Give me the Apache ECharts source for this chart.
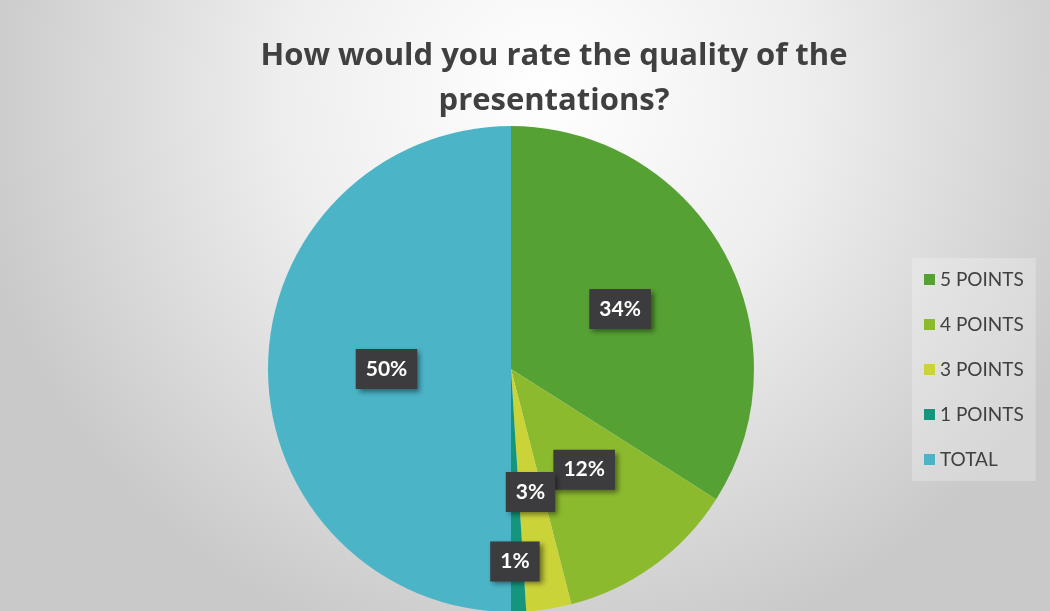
<!DOCTYPE html>
<html><head><meta charset="utf-8">
<script src="https://cdn.jsdelivr.net/npm/echarts@6/dist/echarts.min.js"></script>
<style>html,body{margin:0;padding:0;}#c{width:1050px;height:611px;}</style>
</head><body><div id="c"></div>
<script>
const categories = ['5 POINTS', '4 POINTS', '3 POINTS', '1 POINTS', 'TOTAL'];
const values = [34, 12, 3, 1, 50];
const colors = ['#56a134', '#8cba2f', '#cad338', '#14957c', '#4bb4c7'];
const titleText = 'How would you rate the quality of the\npresentations?';

const chart = echarts.init(document.getElementById('c'));
const labelBase = {
  show: true, position: 'inside', formatter: '{d}%',
  color: '#ffffff', fontFamily: 'Lato, "Open Sans", sans-serif', fontWeight: 'bold', fontSize: 21,
  backgroundColor: '#3c3b3d', padding: [10, 10, 9, 10],
  shadowColor: 'rgba(0,0,0,0.45)', shadowBlur: 5, shadowOffsetX: 3, shadowOffsetY: 3
};
chart.setOption({
  backgroundColor: {
    type: 'radial', x: 0.52, y: 0.15, r: 0.95,
    colorStops: [{offset: 0, color: '#ffffff'}, {offset: 0.45, color: '#eeeeee'}, {offset: 1, color: '#c9c9c9'}]
  },
  title: {
    text: titleText, left: 549, top: 29, textAlign: 'center',
    textStyle: {fontFamily: '"Open Sans", Lato, sans-serif', fontWeight: 'bold', fontSize: 31, color: '#404040', lineHeight: 45}
  },
  legend: {
    orient: 'vertical', left: 912, top: 258, itemWidth: 11, itemHeight: 11, itemGap: 26, icon: 'rect',
    backgroundColor: 'rgba(255,255,255,0.25)', padding: [12, 12, 12, 12],
    textStyle: {fontFamily: 'Lato, "Open Sans", sans-serif', fontSize: 19, lineHeight: 18, color: '#404040', padding: [0, 0, 0, 0]},
    data: categories
  },
  series: [{
    type: 'pie', center: [511, 369], radius: 243, startAngle: 90, clockwise: true,
    avoidLabelOverlap: false, animation: false,
    labelLayout: {hideOverlap: false},
    label: labelBase, labelLine: {show: false},
    emphasis: {disabled: true},
    data: categories.map((name, i) => {
      const item = {name, value: values[i], itemStyle: {color: colors[i]}};
      if (name === '1 POINTS') item.label = {offset: [0, 68]};
      return item;
    })
  }]
});
</script></body></html>
